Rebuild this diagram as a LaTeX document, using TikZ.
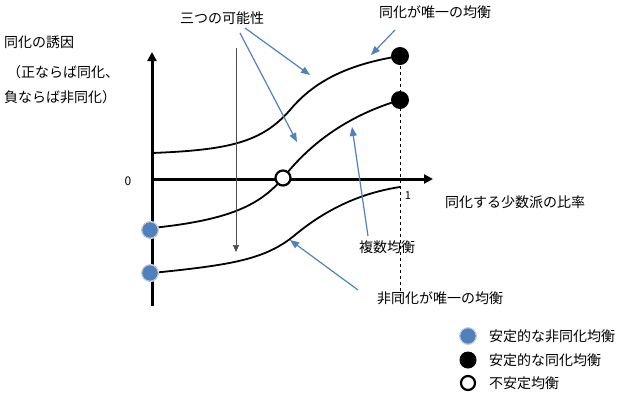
\documentclass[tikz,border=0pt]{standalone}
\usepackage{fontspec}
\setmainfont{Noto Sans CJK JP}
\usetikzlibrary{arrows.meta}
\definecolor{steel}{HTML}{4F81BD}
\begin{document}
\begin{tikzpicture}[x=1pt,y=-1pt,
  lbl/.style={font=\fontsize{14}{16}\selectfont, inner sep=1pt},
  curve/.style={line width=1.8pt},
  callout/.style={draw=steel, line width=1.2pt, -{Triangle[length=9pt,width=7pt]}},
  bdot/.style={circle, fill=black, minimum size=18pt, inner sep=0},
  sdot/.style={circle, fill=steel, draw=white, line width=1.2pt, minimum size=17pt, inner sep=0, postaction={draw=gray!60, line width=0.5pt}},
  odot/.style={circle, fill=white, draw=black, line width=2.2pt, minimum size=15pt, inner sep=0}]
\useasboundingbox (0,0) rectangle (630,400);
% axes
\draw[line width=3pt, -{Triangle[length=9pt,width=9pt]}] (152,306) -- (152,52);
\draw[line width=3pt, -{Triangle[length=9pt,width=9pt]}] (152,179) -- (433,179);
\draw[dashed, line width=0.8pt] (400,60) -- (400,306);
% curves
\draw[curve] (152,153) .. controls (230,150) and (262,142) .. (290,110) .. controls (315,80) and (350,64) .. (400,56);
\draw[curve] (152,228) .. controls (230,220) and (260,205) .. (283,178) .. controls (305,150) and (340,118) .. (400,100);
\draw[curve] (152,273) .. controls (230,265) and (265,260) .. (295,235) .. controls (325,210) and (360,193) .. (400,187);
% dots
\node[bdot] (t1) at (400,56) {};
\node[bdot] (t2) at (400,100) {};
\node[odot] (u) at (283,178) {};
\node[sdot] (s1) at (150,230) {};
\node[sdot] (s2) at (150,273) {};
% labels
\node[lbl, font=\fontsize{12}{14}\selectfont] (zero) at (128,181) {0};
\node[lbl, font=\fontsize{11}{12}\selectfont] (one) at (408,196) {1};
\node[lbl, anchor=west] (ylab1) at (3,42) {同化の誘因};
\node[lbl, anchor=west] (ylab2) at (6,72) {（正ならば同化、};
\node[lbl, anchor=west] (ylab3) at (3,97) {負ならば非同化）};
\node[lbl] (three) at (222,18) {三つの可能性};
\node[lbl] (only) at (435,12) {同化が唯一の均衡};
\node[lbl] (xlab) at (515,202) {同化する少数派の比率};
\node[lbl] (multi) at (387,247) {複数均衡};
\node[lbl] (nonly) at (440,298) {非同化が唯一の均衡};
% callouts
\coordinate (a1) at (310,75);
\coordinate (a2) at (297,142);
\coordinate (a3) at (371,55);
\coordinate (a4) at (352,127);
\coordinate (a5) at (290,240);
\draw[callout] (245,28) -- (a1);
\draw[callout] (240,33) -- (a2);
\draw[callout] (395,30) -- (a3);
\draw[callout] (368,236) -- (a4);
\draw[callout] (358,290) -- (a5);
\coordinate (vd) at (236,252);
\draw[line width=0.7pt, gray!60!black, -{Triangle[length=7pt,width=6pt]}] (236,48) -- (vd);
% legend
\node[sdot] (l1) at (468,336) {};
\node[bdot, minimum size=17pt] (l2) at (468,360) {};
\node[odot, minimum size=14pt] (l3) at (468,383) {};
\node[lbl, anchor=west] (t1l) at (488,336) {安定的な非同化均衡};
\node[lbl, anchor=west] (t2l) at (488,360) {安定的な同化均衡};
\node[lbl, anchor=west] (t3l) at (488,383) {不安定均衡};
\end{tikzpicture}
\end{document}
